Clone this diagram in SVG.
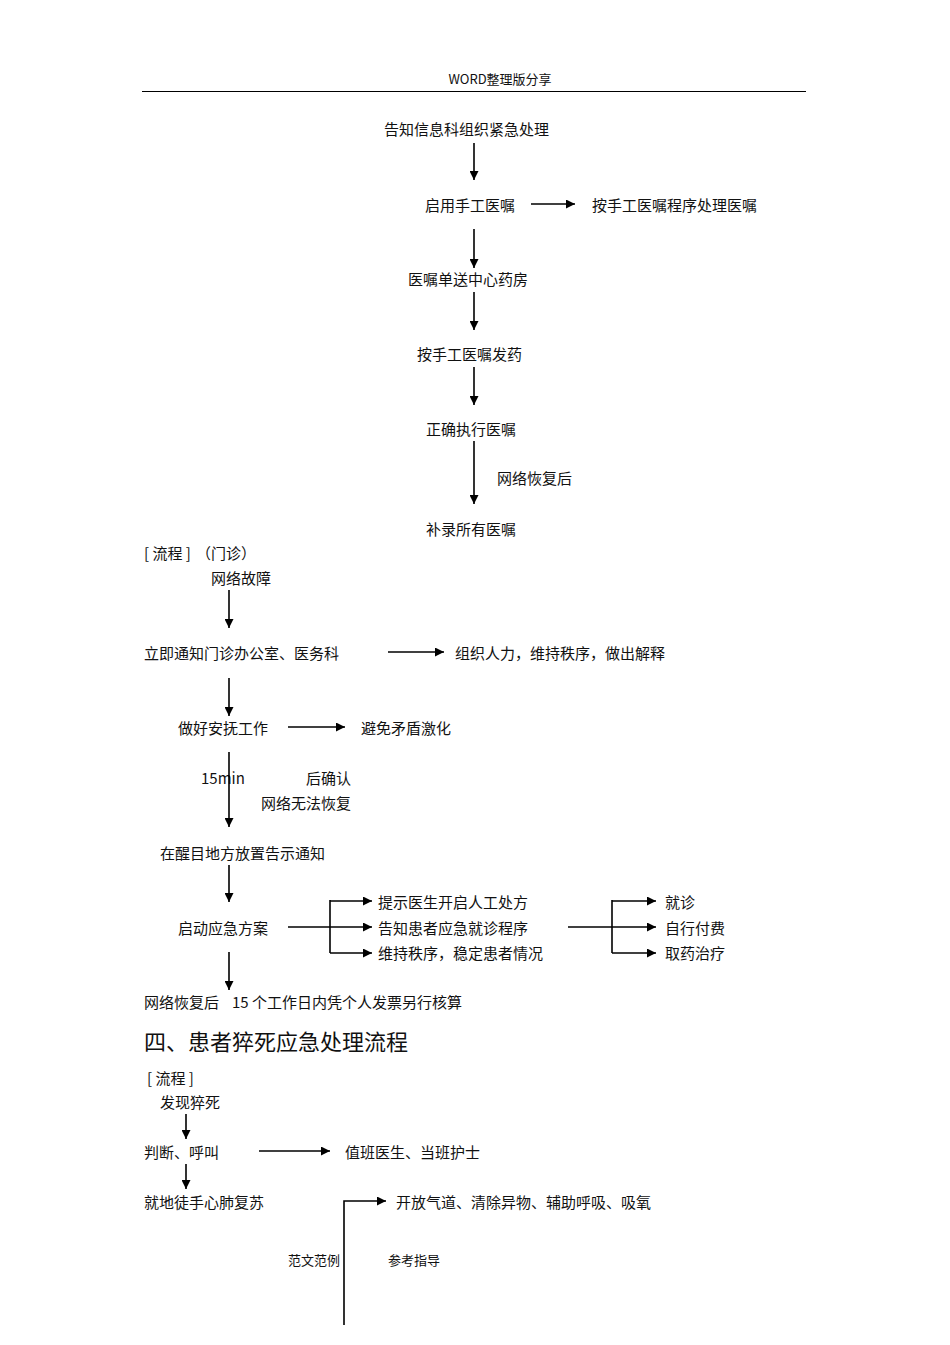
<svg xmlns="http://www.w3.org/2000/svg" width="950" height="1345" viewBox="0 0 950 1345">
<style>
text{font-family:"Noto Sans CJK SC","Liberation Sans",sans-serif;fill:#111;dominant-baseline:central}
.t{font-size:15px}
.s{font-size:13px}
.h{font-size:22px}
.c line,.c path{stroke:#000;stroke-width:1.6;fill:none}
</style>
<defs>
<marker id="a" viewBox="0 0 10 10" refX="10" refY="5" markerWidth="9" markerHeight="9" markerUnits="userSpaceOnUse" orient="auto"><path d="M0,0L10,5L0,10z" fill="#000"/></marker>
</defs>
<rect width="950" height="1345" fill="#fff"/>
<g id="header">
<text class="s" x="500" y="78" text-anchor="middle" font-family="Liberation Sans,Noto Sans CJK SC,sans-serif">WORD整理版分享</text>
<line x1="142" y1="91.5" x2="806" y2="91.5" stroke="#000" stroke-width="1"/>
</g>
<g id="n1"><text class="t" x="384" y="128">告知信息科组织紧急处理</text></g>
<g id="n2"><text class="t" x="425" y="204">启用手工医嘱</text></g>
<g id="n3"><text class="t" x="592" y="204">按手工医嘱程序处理医嘱</text></g>
<g id="n4"><text class="t" x="408" y="278">医嘱单送中心药房</text></g>
<g id="n5"><text class="t" x="417" y="353">按手工医嘱发药</text></g>
<g id="n6"><text class="t" x="426" y="428">正确执行医嘱</text></g>
<g id="l1"><text class="t" x="497" y="477">网络恢复后</text></g>
<g id="n7"><text class="t" x="426" y="528">补录所有医嘱</text></g>

<g id="sec2"><text class="t" x="144" y="552">[ 流程 ]</text><text class="t" x="196" y="552">（门诊）</text></g>
<g id="m1"><text class="t" x="211" y="577">网络故障</text></g>
<g id="m2"><text class="t" x="144" y="652">立即通知门诊办公室、医务科</text></g>
<g id="m3"><text class="t" x="455" y="652">组织人力，维持秩序，做出解释</text></g>
<g id="m4"><text class="t" x="178" y="727">做好安抚工作</text></g>
<g id="m5"><text class="t" x="361" y="727">避免矛盾激化</text></g>
<g id="l2"><text class="t" x="201" y="777" font-family="Liberation Sans,sans-serif">15min</text><text class="t" x="306" y="777">后确认</text><text class="t" x="261" y="802">网络无法恢复</text></g>
<g id="m6"><text class="t" x="160" y="852">在醒目地方放置告示通知</text></g>
<g id="m7"><text class="t" x="178" y="927">启动应急方案</text></g>
<g id="m8"><text class="t" x="378" y="901">提示医生开启人工处方</text></g>
<g id="m9"><text class="t" x="378" y="927">告知患者应急就诊程序</text></g>
<g id="m10"><text class="t" x="378" y="952">维持秩序，稳定患者情况</text></g>
<g id="m11"><text class="t" x="665" y="901">就诊</text></g>
<g id="m12"><text class="t" x="665" y="927">自行付费</text></g>
<g id="m13"><text class="t" x="665" y="952">取药治疗</text></g>
<g id="m14"><text class="t" x="144" y="1001">网络恢复后</text><text class="t" x="232" y="1001">15 个工作日内凭个人发票另行核算</text></g>

<g id="title"><text class="h" x="144" y="1040">四、患者猝死应急处理流程</text></g>
<g id="sec4"><text class="t" x="147" y="1077">[  流程 ]</text></g>
<g id="p1"><text class="t" x="160" y="1101">发现猝死</text></g>
<g id="p2"><text class="t" x="144" y="1151">判断、呼叫</text></g>
<g id="p3"><text class="t" x="345" y="1151">值班医生、当班护士</text></g>
<g id="p4"><text class="t" x="144" y="1201">就地徒手心肺复苏</text></g>
<g id="p5"><text class="t" x="396" y="1201">开放气道、清除异物、辅助呼吸、吸氧</text></g>
<g id="foot"><text class="s" x="288" y="1259">范文范例</text><text class="s" x="388" y="1259">参考指导</text></g>

<g id="connectors" class="c">
<line x1="474" y1="143" x2="474" y2="180" marker-end="url(#a)"/>
<line x1="531" y1="204" x2="575" y2="204" marker-end="url(#a)"/>
<line x1="474" y1="229" x2="474" y2="268" marker-end="url(#a)"/>
<line x1="474" y1="292" x2="474" y2="330" marker-end="url(#a)"/>
<line x1="474" y1="367" x2="474" y2="405" marker-end="url(#a)"/>
<line x1="474" y1="441" x2="474" y2="504" marker-end="url(#a)"/>
<line x1="229" y1="590" x2="229" y2="628" marker-end="url(#a)"/>
<line x1="388" y1="652" x2="444" y2="652" marker-end="url(#a)"/>
<line x1="229" y1="678" x2="229" y2="716" marker-end="url(#a)"/>
<line x1="288" y1="727" x2="345" y2="727" marker-end="url(#a)"/>
<line x1="229" y1="752" x2="229" y2="827" marker-end="url(#a)"/>
<line x1="229" y1="865" x2="229" y2="902" marker-end="url(#a)"/>
<line x1="229" y1="952" x2="229" y2="990" marker-end="url(#a)"/>
<line x1="288" y1="927" x2="372" y2="927" marker-end="url(#a)"/>
<line x1="330" y1="900" x2="330" y2="953"/>
<line x1="330" y1="901" x2="372" y2="901" marker-end="url(#a)"/>
<line x1="330" y1="953" x2="372" y2="953" marker-end="url(#a)"/>
<line x1="568" y1="927" x2="656" y2="927" marker-end="url(#a)"/>
<line x1="612" y1="900" x2="612" y2="953"/>
<line x1="612" y1="901" x2="656" y2="901" marker-end="url(#a)"/>
<line x1="612" y1="953" x2="656" y2="953" marker-end="url(#a)"/>
<line x1="186" y1="1114" x2="186" y2="1139" marker-end="url(#a)"/>
<line x1="259" y1="1151" x2="330" y2="1151" marker-end="url(#a)"/>
<line x1="186" y1="1164" x2="186" y2="1189" marker-end="url(#a)"/>
<path d="M344,1325V1201H386" marker-end="url(#a)"/>
</g>
</svg>
